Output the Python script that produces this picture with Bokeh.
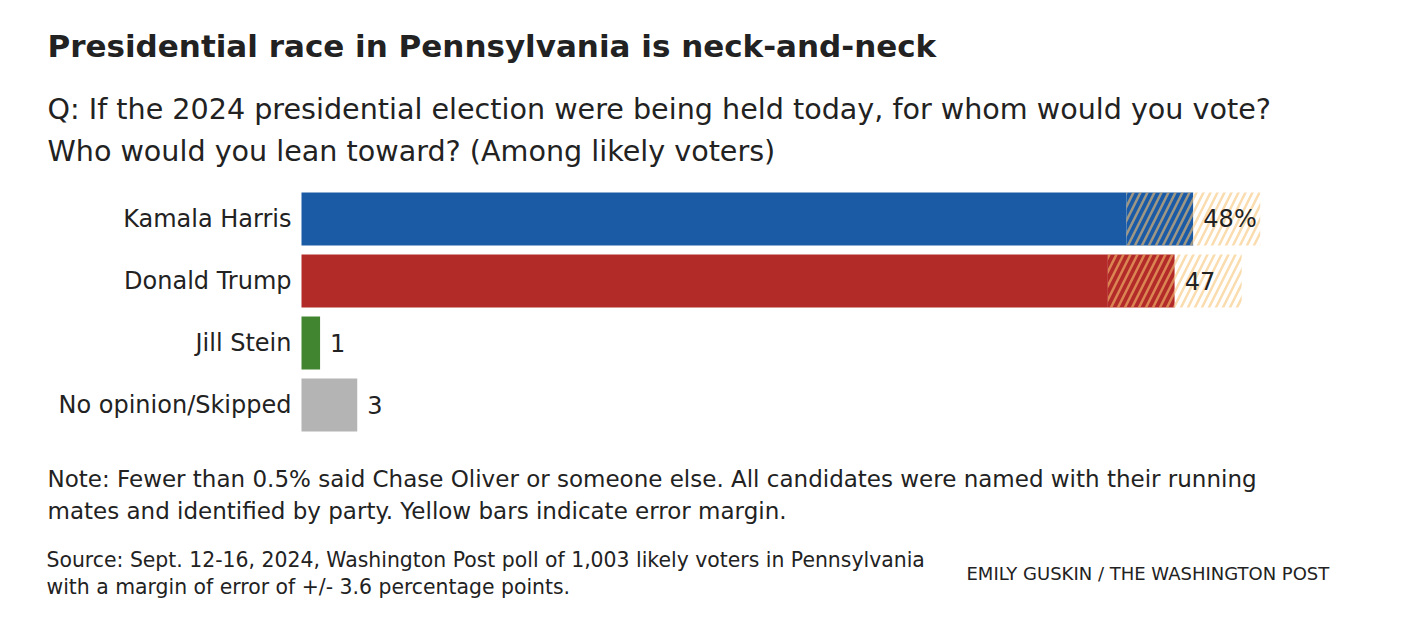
from bokeh.plotting import figure
from bokeh.models import Label, ColumnDataSource
from bokeh.core.properties import value
from bokeh.embed import file_html
from bokeh.resources import INLINE

# ---- data ----
candidates = ["Kamala Harris", "Donald Trump", "Jill Stein", "No opinion/Skipped"]
values = [48, 47, 1, 3]
value_labels = ["48%", "47", "1", "3"]
colors = ["#1b5ba6", "#b22b29", "#428531", "#b4b4b4"]
margin_of_error = 3.6
with_margin = [True, True, False, False]

title = "Presidential race in Pennsylvania is neck-and-neck"
subtitle = ["Q: If the 2024 presidential election were being held today, for whom would you vote?",
            "Who would you lean toward? (Among likely voters)"]
note = ["Note: Fewer than 0.5% said Chase Oliver or someone else. All candidates were named with their running",
        "mates and identified by party. Yellow bars indicate error margin."]
source = ["Source: Sept. 12-16, 2024, Washington Post poll of 1,003 likely voters in Pennsylvania",
          "with a margin of error of +/- 3.6 percentage points."]
credit = "EMILY GUSKIN / THE WASHINGTON POST"

# ---- layout ----
W, H = 1390, 628
PX_PER_PCT = 18.58
X0 = 301  # px of 0%
ROW = 62.0
TOP_ROW_Y = 218.5  # px from top of first bar centre

FONT = "DejaVu Sans"
TXT = "#222222"

n = len(candidates)
ys = [n - 1 - i for i in range(n)]
x_start = -X0 / PX_PER_PCT
x_end = (W - X0) / PX_PER_PCT
y_top = ys[0] + TOP_ROW_Y / ROW
y_bot = y_top - H / ROW

p = figure(width=W, height=H, x_range=(x_start, x_end), y_range=(y_bot, y_top),
           output_backend="svg", toolbar_location=None,
           x_axis_location=None, y_axis_location=None, min_border=0)
p.outline_line_color = None
p.xgrid.visible = False
p.ygrid.visible = False
p.background_fill_color = "white"
p.border_fill_color = "white"

BAR_H = 53 / ROW

# solid part
solid_right = [v - margin_of_error if m else v for v, m in zip(values, with_margin)]
src = ColumnDataSource(dict(y=ys, right=solid_right, color=colors))
p.hbar(y="y", left=0, right="right", height=BAR_H, fill_color="color", line_color=None, source=src)

# hatched margin inside bar
my = [y for y, m in zip(ys, with_margin) if m]
mv = [v for v, m in zip(values, with_margin) if m]
mc = [c for c, m in zip(colors, with_margin) if m]
msrc = ColumnDataSource(dict(y=my, left=[v - margin_of_error for v in mv], right=mv, color=mc,
                             left2=mv, right2=[v + margin_of_error for v in mv]))
p.hbar(y="y", left="left", right="right", height=BAR_H, fill_color="color", line_color=None,
       hatch_pattern="right_diagonal_line", hatch_color="#f5be6e", hatch_alpha=0.61,
       hatch_scale=14, hatch_weight=2.5, source=msrc)
# hatched margin beyond bar (yellow)
p.hbar(y="y", left="left2", right="right2", height=BAR_H, fill_color="white", line_color=None,
       hatch_pattern="right_diagonal_line", hatch_color="#fadcae", hatch_alpha=1.0,
       hatch_scale=14, hatch_weight=2.5, source=msrc)

# category labels
lsrc = ColumnDataSource(dict(x=[0] * n, y=ys, text=candidates))
p.text(x="x", y="y", text="text", source=lsrc, x_offset=-10, text_align="right",
       text_baseline="middle", text_font=value(FONT), text_font_size="24px", text_color=TXT)

# value labels
vsrc = ColumnDataSource(dict(x=values, y=ys, text=value_labels))
p.text(x="x", y="y", text="text", source=vsrc, x_offset=10, text_align="left",
       text_baseline="middle", text_font=value(FONT), text_font_size="24px", text_color=TXT)


def add_label(txt, sx, sy_screen, size, bold=False, align="left"):
    # sy_screen: baseline position in window pixels from top
    cy = H - sy_screen + 0.37 * size
    p.add_layout(Label(x=sx, y=cy, x_units="screen", y_units="screen", text=txt,
                       text_font=FONT, text_font_size=f"{size}px", text_color=TXT,
                       text_font_style="bold" if bold else "normal",
                       text_align=align, text_baseline="alphabetic"))


add_label(title, 47, 57, 31, bold=True)
add_label(subtitle[0], 47, 119, 28.6)
add_label(subtitle[1], 47, 161, 28.6)
add_label(note[0], 47, 487, 23)
add_label(note[1], 47, 519, 23)
add_label(source[0], 46, 567, 20.4)
add_label(source[1], 46, 594, 20.4)
add_label(credit, 966, 580, 18)

open("out.html", "w").write(file_html(p, INLINE))
